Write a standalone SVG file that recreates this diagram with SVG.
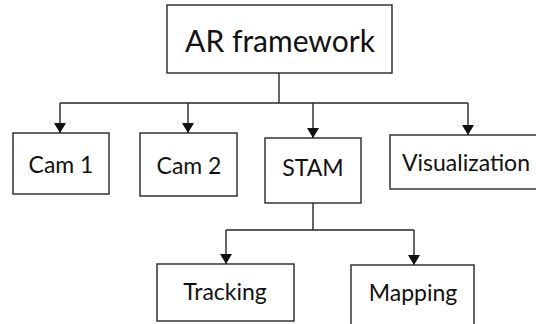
<svg xmlns="http://www.w3.org/2000/svg" width="536" height="324" viewBox="0 0 536 324">
  <defs>
    <style>
      .box { fill: #ffffff; stroke: #262626; stroke-width: 1.4; }
      .lbl { font-family: Lato, "Liberation Sans", sans-serif; fill: #111111; text-anchor: middle; font-size: 23px; }
      .wire { fill: none; stroke: #262626; stroke-width: 1.4; }
    </style>
    <marker id="arrow" viewBox="0 0 10 12" refX="10" refY="6" markerWidth="10" markerHeight="12" markerUnits="userSpaceOnUse" orient="auto">
      <path d="M0,0 L10,6 L0,12 Z" fill="#111111"/>
    </marker>
  </defs>
  <rect width="536" height="324" fill="#ffffff"/>

  <g id="connectors">
    <!-- top-level fan-out -->
    <path class="wire" d="M279,73 V103"/>
    <path class="wire" d="M60,103 H468"/>
    <path class="wire" d="M60,103 V133" marker-end="url(#arrow)"/>
    <path class="wire" d="M188,103 V133" marker-end="url(#arrow)"/>
    <path class="wire" d="M313,103 V138" marker-end="url(#arrow)"/>
    <path class="wire" d="M468,103 V135" marker-end="url(#arrow)"/>
    <!-- STAM fan-out -->
    <path class="wire" d="M313,203 V230"/>
    <path class="wire" d="M226,230 H414"/>
    <path class="wire" d="M226,230 V264" marker-end="url(#arrow)"/>
    <path class="wire" d="M414,230 V265" marker-end="url(#arrow)"/>
  </g>

  <g id="ar-framework">
    <rect class="box" x="167" y="5" width="225" height="68"/>
    <text class="lbl" x="280" y="52" style="font-size:30px">AR framework</text>
  </g>
  <g id="cam1">
    <rect class="box" x="13" y="133" width="96" height="61"/>
    <text class="lbl" x="61" y="173">Cam 1</text>
  </g>
  <g id="cam2">
    <rect class="box" x="140" y="133" width="97" height="63"/>
    <text class="lbl" x="189" y="174">Cam 2</text>
  </g>
  <g id="stam">
    <rect class="box" x="265" y="138" width="96" height="65"/>
    <text class="lbl" x="313" y="176">STAM</text>
  </g>
  <g id="visualization">
    <rect class="box" x="390" y="135" width="160" height="54"/>
    <text class="lbl" x="466" y="171">Visualization</text>
  </g>
  <g id="tracking">
    <rect class="box" x="157" y="264" width="137" height="57"/>
    <text class="lbl" x="225" y="300">Tracking</text>
  </g>
  <g id="mapping">
    <rect class="box" x="351" y="265" width="123" height="70"/>
    <text class="lbl" x="413" y="301">Mapping</text>
  </g>
</svg>
